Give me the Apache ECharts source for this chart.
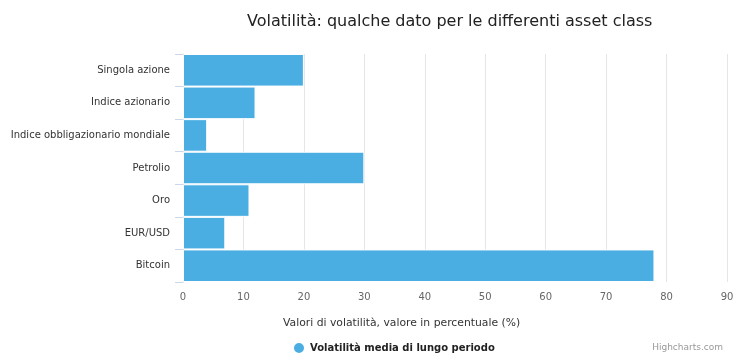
<!DOCTYPE html>
<html><head><meta charset="utf-8">
<script src="https://cdn.jsdelivr.net/npm/echarts@6/dist/echarts.min.js"></script>
<style>html,body{margin:0;padding:0;background:#fff}#c{width:750px;height:359px}</style>
</head><body><div id="c"></div>
<script>
const categories = ["Singola azione","Indice azionario","Indice obbligazionario mondiale","Petrolio","Oro","EUR/USD","Bitcoin"];
const values = [20, 12, 4, 30, 11, 7, 78];
const seriesName = "Volatilità media di lungo periodo";
const chartTitle = "Volatilità: qualche dato per le differenti asset class";
const xAxisTitle = "Valori di volatilità, valore in percentuale (%)";
const FONT = '"DejaVu Sans", sans-serif';
const chart = echarts.init(document.getElementById('c'), null, {renderer:'canvas'});
chart.setOption({
  animation:false,
  textStyle:{fontFamily:FONT},
  title:[
    {text:chartTitle, left:242, top:9, textStyle:{fontFamily:FONT, fontSize:16, fontWeight:'normal', color:'#222'}},
    {text:xAxisTitle, left:278, top:313, textStyle:{fontFamily:FONT, fontSize:10.8, fontWeight:'normal', color:'#333'}},
    {text:'Highcharts.com', right:22, top:338, textStyle:{fontFamily:FONT, fontSize:9, fontWeight:'normal', color:'#999'}}
  ],
  legend:{left:287, top:336, icon:'circle', itemWidth:12, itemHeight:12, itemGap:5,
    textStyle:{fontFamily:FONT, fontSize:10, fontWeight:'bold', color:'#222'}},
  grid:{left:183, right:23, top:54, bottom:77},
  xAxis:{type:'value', min:0, max:90, interval:10,
    axisLine:{show:false}, axisTick:{show:false},
    splitLine:{lineStyle:{color:'#e6e6e6'}},
    axisLabel:{color:'#666', fontSize:10, margin:10, fontFamily:FONT}},
  yAxis:{type:'category', data:categories, inverse:true,
    axisLine:{show:true, lineStyle:{color:'#ccd6eb'}},
    axisTick:{show:true, length:8, lineStyle:{color:'#ccd6eb'}},
    axisLabel:{color:'#333', fontSize:10, margin:13, fontFamily:FONT}},
  series:[{type:'bar', name:seriesName, data:values, barWidth:'100%',
    itemStyle:{color:'#4aaee2', borderColor:'#fff', borderWidth:1}}]
});
</script></body></html>
